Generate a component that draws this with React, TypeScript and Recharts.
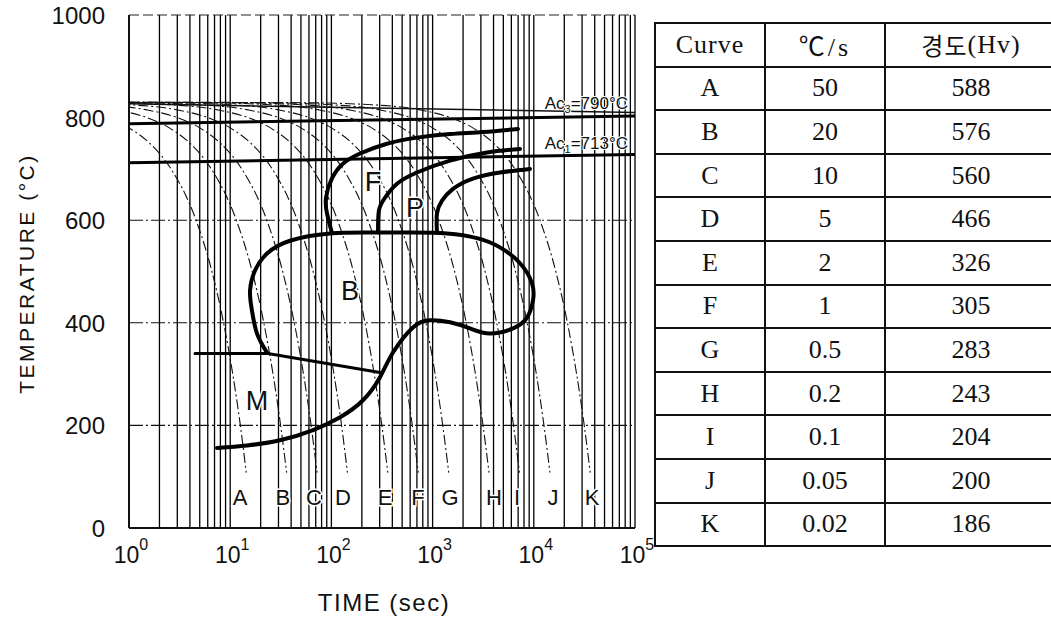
import React from 'react';
import { ComposedChart, Line, Scatter, XAxis, YAxis, ReferenceLine } from 'recharts';

const SANS = '"Liberation Sans", Arial, sans-serif';
const SERIF = '"Liberation Serif", "Noto Sans CJK KR", serif';

// cooling curves: every curve passes the same temperature levels, times (s) read per curve
const CURVE_NAMES = ['A', 'B', 'C', 'D', 'E', 'F', 'G', 'H', 'I', 'J', 'K'];
const COOL_TEMPS = [829.98, 829, 825, 815, 800, 780, 750, 700, 600, 500, 400, 300, 200, 108];
const timesA = [0.0004, 0.02, 0.1, 0.3, 0.6, 1, 1.6, 2.6, 4.6, 6.6, 8.6, 10.6, 12.6, 14.4];
const timesB = [0.001, 0.05, 0.25, 0.75, 1.5, 2.5, 4, 6.5, 11.5, 16.5, 21.5, 26.5, 31.5, 36.1];
const timesC = [0.002, 0.1, 0.5, 1.5, 3, 5, 8, 13, 23, 33, 43, 53, 63, 72.2];
const timesD = [0.004, 0.2, 1, 3, 6, 10, 16, 26, 46, 66, 86, 106, 126, 144];
const timesE = [0.01, 0.5, 2.5, 7.5, 15, 25, 40, 65, 115, 165, 215, 265, 315, 361];
const timesF = [0.02, 1, 5, 15, 30, 50, 80, 130, 230, 330, 430, 530, 630, 722];
const timesG = [0.04, 2, 10, 30, 60, 100, 160, 260, 460, 660, 860, 1060, 1260, 1444];
const timesH = [0.1, 5, 25, 75, 150, 250, 400, 650, 1150, 1650, 2150, 2650, 3150, 3610];
const timesI = [0.2, 10, 50, 150, 300, 500, 800, 1300, 2300, 3300, 4300, 5300, 6300, 7220];
const timesJ = [0.4, 20, 100, 300, 600, 1000, 1600, 2600, 4600, 6600, 8600, 10600, 12600, 14440];
const timesK = [1, 50, 250, 750, 1500, 2500, 4000, 6500, 11500, 16500, 21500, 26500, 31500, 36100];
const COOL_TIMES = [timesA, timesB, timesC, timesD, timesE, timesF, timesG, timesH, timesI, timesJ, timesK];

// where the curve letters sit under the curves
const CURVE_LABEL_TIMES = [12.5, 33.2, 67.3, 130, 339, 717, 1486, 4045, 6820, 15490, 37600];
const CURVE_LABEL_TEMP = 60;

// transformation lines [time s, temp C]
const ferriteStart = [[6980, 778], [3148, 772], [1486, 768], [701, 761], [354, 749], [192, 730], [130, 710], [101, 681], [88.5, 644], [90.5, 613], [101, 576]];
const pearliteStart = [[7310, 739], [3450, 732], [1486, 716], [701, 693], [445, 671], [339, 644], [295, 619], [289, 576]];
const pearliteFinish = [[9170, 700], [4630, 693], [2506, 681], [1592, 661], [1239, 638], [1105, 613], [1105, 576]];
const bainiteLoop = [
  [7.41, 156], [14.7, 161], [31, 171], [65.8, 191], [122, 216], [205, 249], [302, 294], [406, 342],
  [640, 391], [942, 405], [1486, 401], [2342, 389], [3690, 379], [6230, 389], [8570, 410], [9820, 444],
  [9600, 477], [7310, 516], [4630, 547], [2747, 565], [1388, 574], [640, 576], [241, 576], [97, 574],
  [39, 560], [23.1, 535], [17.6, 502], [15.7, 463], [16.4, 424], [18.4, 379], [23.1, 342],
];
const msLine = [[4.49, 340], [23.6, 340], [302, 303]];

// region letters [time, temp, text]
const regionLabels: [number, number, string][] = [[258, 677, 'F'], [670, 625, 'P'], [153, 463, 'B'], [18.4, 249, 'M']];

// Ac lines are slightly tilted in the scan: [temp at 1 s, temp at 1e5 s]
const ac3Line = [788, 803];
const ac1Line = [712, 728];
const startLine = [827, 810];
const acLabels: [number, number, string, string][] = [[85300, 817, '3', '=790°C'], [85300, 739, '1', '=713°C']];

const Y_TICKS = [0, 200, 400, 600, 800, 1000];
const X_TICKS = [1, 10, 100, 1000, 10000, 100000];
const H_GRID = [200, 400, 600];

// table
const RATES = ['50', '20', '10', '5', '2', '1', '0.5', '0.2', '0.1', '0.05', '0.02'];
const HARDNESS = [588, 576, 560, 466, 326, 305, 283, 243, 204, 200, 186];

const toPts = (arr: number[][]) => arr.map(([t, T]) => ({ t, T }));

const logGrid: number[] = [];
for (let d = 0; d < 5; d++) {
  for (let k = 1; k <= 9; k++) logGrid.push(k * Math.pow(10, d));
}
logGrid.push(100000);

const XTick = ({ x, y, payload }: any) => {
  const exp = Math.round(Math.log10(payload.value));
  return (
    <text x={x + 2} y={y + 35} textAnchor="middle" fontSize={23} fontFamily={SANS} fill="#111">
      10<tspan dy={-13} fontSize={16}>{exp}</tspan>
    </text>
  );
};

const YTick = ({ x, y, payload }: any) => (
  <text x={x - 24} y={y + 9} textAnchor="end" fontSize={24} fontFamily={SANS} fill="#111">
    {payload.value}
  </text>
);

const thick = { stroke: '#000', strokeWidth: 4, dot: false, activeDot: false, isAnimationActive: false, strokeLinecap: 'round' as const };

const cellBase: React.CSSProperties = {
  borderRight: '2px solid #111',
  borderBottom: '2px solid #111',
  boxSizing: 'border-box',
  display: 'flex',
  alignItems: 'center',
  justifyContent: 'center',
  fontFamily: SERIF,
  fontSize: 26,
  color: '#111',
};

export default function App() {
  return (
    <div style={{ position: 'absolute', left: 0, top: 0, width: 1051, height: 621, background: '#fff', overflow: 'hidden' }}>
      <ComposedChart width={1051} height={621} margin={{ top: 15, right: 416, bottom: 0, left: 0 }}>
        <XAxis
          type="number"
          dataKey="t"
          scale="log"
          domain={[1, 100000]}
          ticks={X_TICKS}
          allowDataOverflow
          height={93}
          tickSize={0}
          tickMargin={0}
          tick={<XTick />}
          axisLine={{ stroke: '#111', strokeWidth: 2 }}
          label={({ viewBox }: any) => (
            <text x={viewBox.x + viewBox.width / 2 + 2} y={viewBox.y + 83} textAnchor="middle" fontSize={24} letterSpacing={1.5} fontFamily={SANS} fill="#111">
              TIME (sec)
            </text>
          )}
        />
        <YAxis
          type="number"
          dataKey="T"
          domain={[0, 1000]}
          ticks={Y_TICKS}
          allowDataOverflow
          width={129}
          tickSize={0}
          tickMargin={0}
          tick={<YTick />}
          axisLine={{ stroke: '#111', strokeWidth: 2 }}
          label={({ viewBox }: any) => (
            <text
              x={26}
              y={viewBox.y + viewBox.height / 2 + 2}
              transform={`rotate(-90 26 ${viewBox.y + viewBox.height / 2 + 2})`}
              textAnchor="middle"
              dominantBaseline="central"
              fontSize={21}
              letterSpacing={2.5}
              fontFamily={SANS}
              fill="#111"
            >
              TEMPERATURE (°C)
            </text>
          )}
        />

        {logGrid.map((v) => (
          <ReferenceLine key={`v${v}`} x={v} stroke="#000" strokeWidth={1.3} />
        ))}
        {H_GRID.map((v) => (
          <ReferenceLine key={`h${v}`} y={v} stroke="#111" strokeWidth={1.1} strokeDasharray="14 3 2 3" />
        ))}
        <ReferenceLine y={1000} stroke="#222" strokeWidth={1.2} strokeDasharray="10 4" />

        <ReferenceLine segment={[{ x: 1, y: startLine[0] }, { x: 100000, y: startLine[1] }]} stroke="#111" strokeWidth={1.5} />
        <ReferenceLine segment={[{ x: 1, y: ac3Line[0] }, { x: 100000, y: ac3Line[1] }]} stroke="#000" strokeWidth={3} />
        <ReferenceLine segment={[{ x: 1, y: ac1Line[0] }, { x: 100000, y: ac1Line[1] }]} stroke="#000" strokeWidth={3} />

        {COOL_TIMES.map((times, i) => (
          <Line
            key={CURVE_NAMES[i]}
            data={times.map((t, j) => ({ t, T: COOL_TEMPS[j] }))}
            dataKey="T"
            type="monotone"
            stroke="#111"
            strokeWidth={1.1}
            strokeDasharray="10 3 2 3"
            dot={false}
            activeDot={false}
            isAnimationActive={false}
          />
        ))}

        <Line data={toPts(ferriteStart)} dataKey="T" type="natural" {...thick} />
        <Line data={toPts(pearliteStart)} dataKey="T" type="natural" {...thick} />
        <Line data={toPts(pearliteFinish)} dataKey="T" type="natural" {...thick} />
        <Line data={toPts(bainiteLoop)} dataKey="T" type="natural" {...thick} />
        <Line data={toPts(msLine)} dataKey="T" type="linear" {...thick} strokeWidth={3} />

        <Scatter
          data={CURVE_NAMES.map((name, i) => ({ t: CURVE_LABEL_TIMES[i], T: CURVE_LABEL_TEMP, name }))}
          dataKey="T"
          isAnimationActive={false}
          shape={(p: any) => (
            <text x={p.cx} y={p.cy + 8} textAnchor="middle" fontSize={22} fontFamily={SANS} fill="#111" style={{ paintOrder: 'stroke' }} stroke="#fff" strokeWidth={3}>
              {p.payload.name}
            </text>
          )}
        />
        <Scatter
          data={regionLabels.map(([t, T, name]) => ({ t, T, name }))}
          dataKey="T"
          isAnimationActive={false}
          shape={(p: any) => (
            <text x={p.cx} y={p.cy + 10} textAnchor="middle" fontSize={27} fontFamily={SANS} fill="#111" style={{ paintOrder: 'stroke' }} stroke="#fff" strokeWidth={3}>
              {p.payload.name}
            </text>
          )}
        />
        <Scatter
          data={acLabels.map(([t, T, sub, rest]) => ({ t, T, sub, rest }))}
          dataKey="T"
          isAnimationActive={false}
          shape={(p: any) => (
            <text x={p.cx} y={p.cy} textAnchor="end" fontSize={17} fontFamily={SANS} fill="#111" style={{ paintOrder: 'stroke' }} stroke="#fff" strokeWidth={2}>
              Ac<tspan fontSize={11} dy={4}>{p.payload.sub}</tspan>
              <tspan dy={-4}>{p.payload.rest}</tspan>
            </text>
          )}
        />
      </ComposedChart>

      <div
        style={{
          position: 'absolute',
          left: 654,
          top: 22,
          display: 'grid',
          gridTemplateColumns: '110px 120px 172px',
          gridTemplateRows: 'repeat(12, 43.6px)',
          borderTop: '2px solid #111',
          borderLeft: '2px solid #111',
          background: '#fff',
        }}
      >
        <div style={{ ...cellBase, letterSpacing: 1 }}>Curve</div>
        <div style={{ ...cellBase, letterSpacing: 3 }}>℃/s</div>
        <div style={{ ...cellBase, letterSpacing: 1 }}>
          <span style={{ fontFamily: '"Noto Sans CJK KR", sans-serif', fontSize: 24 }}>경도</span>(Hv)
        </div>
        {CURVE_NAMES.map((name, i) => (
          <React.Fragment key={name}>
            <div style={cellBase}>{name}</div>
            <div style={cellBase}>{RATES[i]}</div>
            <div style={cellBase}>{HARDNESS[i]}</div>
          </React.Fragment>
        ))}
      </div>
    </div>
  );
}
